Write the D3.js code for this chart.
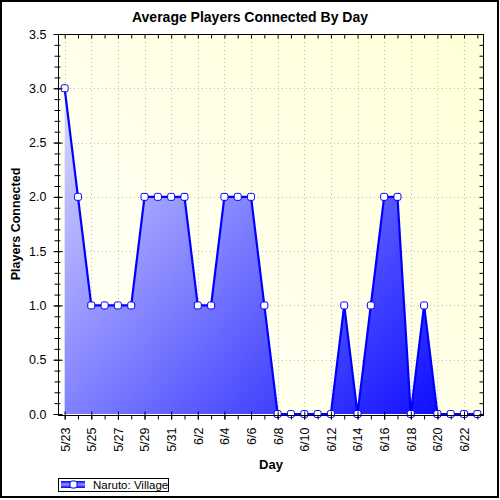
<!DOCTYPE html>
<html><head><meta charset="utf-8">
<script src="https://cdn.jsdelivr.net/npm/d3@7"></script>
<style>body{margin:0;background:#fff}svg{display:block}text{font-family:"Liberation Sans",Arial,sans-serif}</style>
</head><body>
<script>
const days = ["5/23","5/24","5/25","5/26","5/27","5/28","5/29","5/30","5/31","6/1","6/2","6/3","6/4","6/5","6/6","6/7","6/8","6/9","6/10","6/11","6/12","6/13","6/14","6/15","6/16","6/17","6/18","6/19","6/20","6/21","6/22","6/23"];
const players = [3,2,1,1,1,1,2,2,2,2,1,1,2,2,2,1,0,0,0,0,0,1,0,1,2,2,0,1,0,0,0,0];
const yTicks = [0,0.5,1,1.5,2,2.5,3,3.5];
const xTickLabels = ["5/23","5/25","5/27","5/29","5/31","6/2","6/4","6/6","6/8","6/10","6/12","6/14","6/16","6/18","6/20","6/22"];
const seriesName = "Naruto: Village";

const W = 500, H = 500;
const L = 58, R = 484, T = 34, B = 414;
const svg = d3.select("body").append("svg").attr("width", W).attr("height", H);
const defs = svg.append("defs");

const bg = defs.append("linearGradient").attr("id","bg").attr("gradientUnits","userSpaceOnUse")
  .attr("x1",L).attr("y1",B).attr("x2",R).attr("y2",T);
bg.append("stop").attr("offset","0").attr("stop-color","#fffffa");
bg.append("stop").attr("offset","1").attr("stop-color","#ffffd6");

const ag = defs.append("linearGradient").attr("id","ag").attr("gradientUnits","userSpaceOnUse")
  .attr("x1",L).attr("y1",T).attr("x2",R).attr("y2",B);
ag.append("stop").attr("offset","0").attr("stop-color","#ececff");
ag.append("stop").attr("offset","1").attr("stop-color","#0000ff");

const lg = defs.append("linearGradient").attr("id","lg").attr("x1",0).attr("y1",0).attr("x2",0).attr("y2",1);
lg.append("stop").attr("offset","0").attr("stop-color","#0000ff");
lg.append("stop").attr("offset","0.5").attr("stop-color","#9090ff");
lg.append("stop").attr("offset","1").attr("stop-color","#0000ff");

// outer border
svg.append("rect").attr("x",1).attr("y",1).attr("width",497).attr("height",496)
  .attr("fill","#fff").attr("stroke","#000").attr("stroke-width",2);

const x = d3.scaleLinear().domain([-0.5, days.length - 0.5]).range([L, R]);
const y = d3.scaleLinear().domain([0, 3.5]).range([B, T]);

// plot background
svg.append("rect").attr("x",L).attr("y",T).attr("width",R-L).attr("height",B-T).attr("fill","url(#bg)");

// grid
const grid = svg.append("g").attr("stroke","#bdbdbd").attr("stroke-dasharray","1,3");
grid.selectAll("line.h").data(yTicks.filter(v => v > 0 && v < 3.5)).join("line")
  .attr("x1",L).attr("x2",R).attr("y1",d=>Math.round(y(d))+0.5).attr("y2",d=>Math.round(y(d))+0.5);
grid.selectAll("line.v").data(xTickLabels).join("line")
  .attr("y1",T).attr("y2",B).attr("x1",d=>Math.round(x(days.indexOf(d)))+0.5).attr("x2",d=>Math.round(x(days.indexOf(d)))+0.5);

// area + line
const idx = d3.range(days.length);
svg.append("path").datum(idx)
  .attr("fill","url(#ag)")
  .attr("d", d3.area().x(i=>x(i)).y0(y(0)).y1(i=>y(players[i])));
svg.append("path").datum(idx)
  .attr("fill","none").attr("stroke","#0000ff").attr("stroke-width",2.2)
  .attr("d", d3.line().x(i=>x(i)).y(i=>y(players[i])));
svg.append("g").selectAll("rect").data(idx).join("rect")
  .attr("x",i=>x(i)-3.5).attr("y",i=>y(players[i])-3.5).attr("width",7).attr("height",7)
  .attr("rx",2).attr("fill","#fff").attr("stroke","#0000ff").attr("stroke-width",1);

// frame
svg.append("rect").attr("x",L+0.5).attr("y",T+0.5).attr("width",R-L-1).attr("height",B-T+1)
  .attr("fill","none").attr("stroke","#000").attr("stroke-width",1);

// left axis major
const yMinor = d3.range(0, 3.5001, 0.1);
const la = svg.append("g").attr("transform",`translate(${L+0.5},0)`)
  .call(d3.axisLeft(y).tickValues(yTicks).tickFormat(d3.format(".1f")).tickSize(5).tickPadding(7));
la.select(".domain").remove();
la.selectAll(".tick line").attr("x1",4);
la.selectAll("text").attr("font-size",12.5).attr("fill","#000").attr("font-family","Liberation Sans, Arial, sans-serif");
const lm = svg.append("g").attr("transform",`translate(${L+0.5},0)`)
  .call(d3.axisLeft(y).tickValues(yMinor).tickFormat("").tickSize(4));
lm.select(".domain").remove();
lm.selectAll(".tick line").attr("x1",2);

// right axis ticks
const ra = svg.append("g").attr("transform",`translate(${R-0.5},0)`)
  .call(d3.axisLeft(y).tickValues(yMinor).tickFormat("").tickSize(4));
ra.select(".domain").remove();

// top axis ticks
const ta = svg.append("g").attr("transform",`translate(0,${T+0.5})`)
  .call(d3.axisBottom(x).tickValues(idx).tickFormat("").tickSize(4));
ta.select(".domain").remove();

// bottom axis
const bm = svg.append("g").attr("transform",`translate(0,${B+1.5})`)
  .call(d3.axisBottom(x).tickValues(idx).tickFormat("").tickSize(4));
bm.select(".domain").remove();
const ba = svg.append("g").attr("transform",`translate(0,${B+1.5})`)
  .call(d3.axisBottom(x).tickValues(xTickLabels.map(d=>days.indexOf(d))).tickFormat(i=>days[i]).tickSize(4));
ba.select(".domain").remove();
ba.selectAll(".tick line").attr("y1",-4);
ba.selectAll("text").attr("font-size",12.5).attr("fill","#000")
  .attr("font-family","Liberation Sans, Arial, sans-serif")
  .attr("text-anchor","end").attr("transform","rotate(-90)")
  .attr("x",-12).attr("y",0).attr("dy","0.35em");

// titles
svg.append("text").attr("x",250).attr("y",22).attr("text-anchor","middle")
  .attr("font-size",14).attr("font-weight","bold").text("Average Players Connected By Day");
svg.append("text").attr("transform","translate(20,224) rotate(-90)").attr("text-anchor","middle")
  .attr("font-size",12.5).attr("font-weight","bold").text("Players Connected");
svg.append("text").attr("x",271).attr("y",469).attr("text-anchor","middle")
  .attr("font-size",13).attr("font-weight","bold").text("Day");

// legend
const lgd = svg.append("g");
lgd.append("rect").attr("x",58.5).attr("y",478.5).attr("width",110).attr("height",13)
  .attr("fill","#fff").attr("stroke","#000");
lgd.append("rect").attr("x",61).attr("y",481).attr("width",24).attr("height",7).attr("fill","url(#lg)");
lgd.append("rect").attr("x",70).attr("y",481).attr("width",7).attr("height",7).attr("rx",2)
  .attr("fill","#fff").attr("stroke","#0000ff");
lgd.append("text").attr("x",93).attr("y",489).attr("font-size",11.5).attr("fill","#000").text(seriesName);
</script>
</body></html>
